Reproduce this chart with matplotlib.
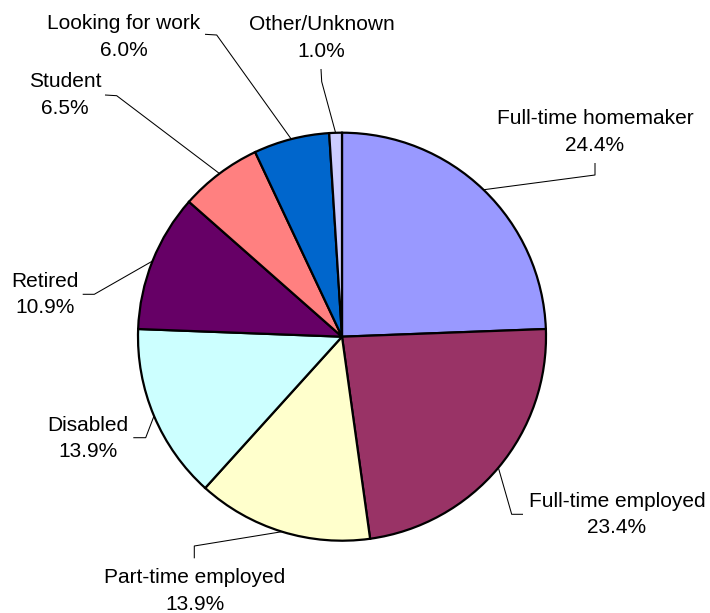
import numpy as np
import matplotlib
matplotlib.use("Agg")
import matplotlib.pyplot as plt

categories = ["Full-time homemaker", "Full-time employed", "Part-time employed",
              "Disabled", "Retired", "Student", "Looking for work", "Other/Unknown"]
shares = [24.4, 23.4, 13.9, 13.9, 10.9, 6.5, 6.0, 1.0]
colors = ["#9999FF", "#993366", "#FFFFCC", "#CCFFFF",
          "#660066", "#FF8080", "#0066CC", "#CCCCFF"]

W, H = 710, 613
CX, CY, R = 342, 336.7, 204   # pie centre / radius in pixels (y from top)

# label layout: text centre x, baseline of name, baseline of value, leader start, leader elbow
label_layout = {
    "Full-time homemaker": (595, 124, 150.7, (595, 163), (595, 175)),
    "Full-time employed": (617, 506.7, 533.3, (523, 514.3), (511.7, 514.3)),
    "Part-time employed": (195, 583.3, 610, (194.3, 558.3), (194.3, 546)),
    "Disabled": (88, 430.7, 456.7, (133.3, 437.7), (145.7, 437.7)),
    "Retired": (45, 287, 313, (82.7, 294.3), (94.3, 294.3)),
    "Student": (65, 87.3, 114, (105, 95), (116.7, 95.7)),
    "Looking for work": (124, 29.3, 55.5, (205, 34.3), (216.7, 35)),
    "Other/Unknown": (321.5, 29.8, 57, (321, 69), (321.7, 81.7)),
}

plt.rcParams["font.family"] = ["Liberation Sans", "DejaVu Sans"]

fig = plt.figure(figsize=(W / 100, H / 100), dpi=100)
ax = fig.add_axes([0, 0, 1, 1])


def fy(y):
    return H - y


wedges, _ = ax.pie(shares, colors=colors, startangle=90, counterclock=False,
                   center=(CX, fy(CY)), radius=R,
                   wedgeprops=dict(edgecolor="black", linewidth=1.6))
ax.set_xlim(0, W)
ax.set_ylim(0, H)
ax.set_aspect("equal")
ax.axis("off")

FS = 15
for w, name, val in zip(wedges, categories, shares):
    mid = np.deg2rad((w.theta1 + w.theta2) / 2)
    ex = CX + R * np.cos(mid)
    ey = CY - R * np.sin(mid)
    tx, b1, b2, p0, p1 = label_layout[name]
    ax.plot([p0[0], p1[0], ex], [fy(p0[1]), fy(p1[1]), fy(ey)],
            color="black", linewidth=0.75, solid_capstyle="butt")
    ax.text(tx, fy(b1), name, ha="center", va="baseline", fontsize=FS, color="black")
    ax.text(tx, fy(b2), f"{val:.1f}%", ha="center", va="baseline", fontsize=FS, color="black")

fig.savefig("out.png", dpi=100, facecolor="white")
